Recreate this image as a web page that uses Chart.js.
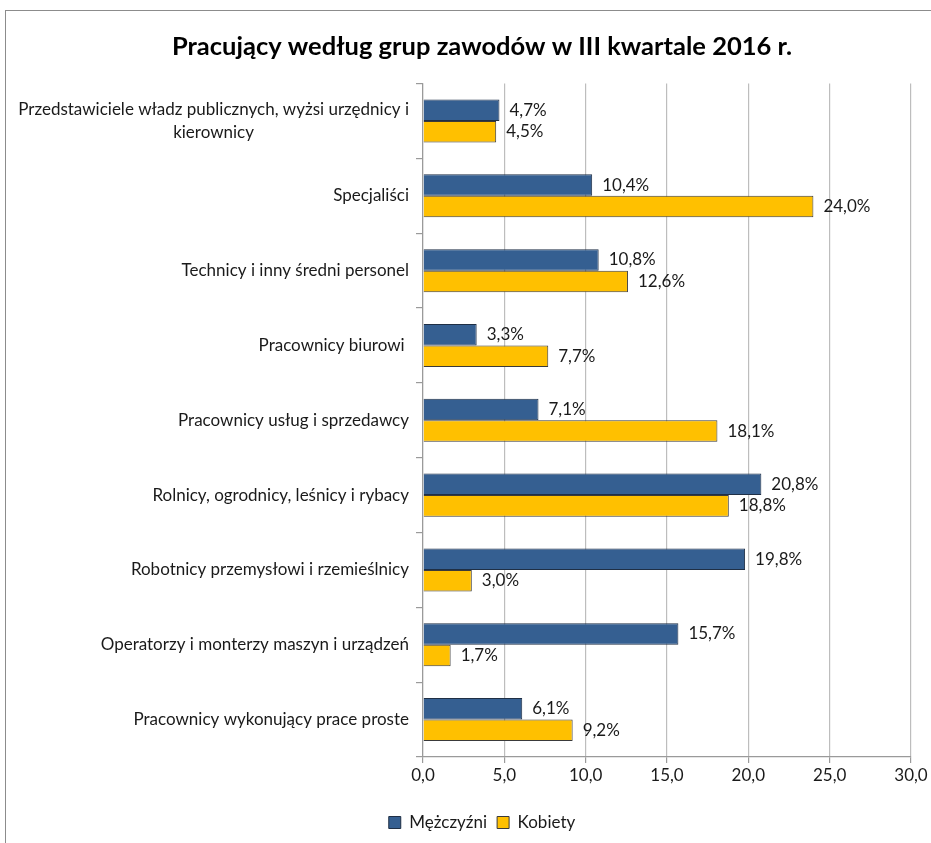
<!DOCTYPE html>
<html>
<head>
<meta charset="utf-8">
<script src="https://cdn.jsdelivr.net/npm/chart.js@4"></script>
<style>
  html, body { margin: 0; padding: 0; background: #fff; overflow: hidden; }
  #frame { position: absolute; left: 5px; top: 10px; width: 952px; height: 850px;
           border: 1.5px solid #8c8c8c; box-sizing: border-box; }
  #chart { position: absolute; left: 0; top: 0; }
</style>
</head>
<body>
<div id="frame"><canvas id="chart" width="952" height="833"></canvas></div>
<script>
const categories = [
    ['Przedstawiciele władz publicznych, wyżsi urzędnicy i', 'kierownicy'],
    ['Specjaliści'],
    ['Technicy i inny średni personel'],
    ['Pracownicy biurowi '],
    ['Pracownicy usług i sprzedawcy'],
    ['Rolnicy, ogrodnicy, leśnicy i rybacy'],
    ['Robotnicy przemysłowi i rzemieślnicy'],
    ['Operatorzy i monterzy maszyn i urządzeń'],
    ['Pracownicy wykonujący prace proste']
];
const men = [4.7, 10.4, 10.8, 3.3, 7.1, 20.8, 19.8, 15.7, 6.1];
const women = [4.5, 24.0, 12.6, 7.7, 18.1, 18.8, 3.0, 1.7, 9.2];
const xTicks = [0, 5, 10, 15, 20, 25, 30];

const FONT = 'Lato, "Open Sans", sans-serif';
const fmt = v => v.toFixed(1).replace('.', ',');

// category labels drawn by hand so that wrapped lines are centred inside their block
const categoryLabels = {
    id: 'categoryLabels',
    afterDraw(chart) {
        const ctx = chart.ctx;
        const y = chart.scales.y;
        const right = chart.chartArea.left - 14;
        ctx.save();
        ctx.font = '17px ' + FONT;
        ctx.fillStyle = '#1a1a1a';
        ctx.textBaseline = 'middle';
        ctx.textAlign = 'center';
        categories.forEach((lines, i) => {
            const cy = y.getPixelForValue(i);
            const w = Math.max(...lines.map(l => ctx.measureText(l).width));
            const cx = right - w / 2;
            const lh = 23;
            const top = cy - (lines.length - 1) * lh / 2;
            lines.forEach((l, j) => ctx.fillText(l, cx, top + j * lh));
        });
        ctx.restore();
    }
};

const valueLabels = {
    id: 'valueLabels',
    afterDatasetsDraw(chart) {
        const ctx = chart.ctx;
        ctx.save();
        ctx.font = '17px ' + FONT;
        ctx.fillStyle = '#1a1a1a';
        ctx.textAlign = 'left';
        ctx.textBaseline = 'middle';
        chart.data.datasets.forEach((ds, di) => {
            chart.getDatasetMeta(di).data.forEach((bar, i) => {
                ctx.fillText(fmt(ds.data[i]) + '%', bar.x + 10, bar.y);
            });
        });
        ctx.restore();
    }
};

new Chart(document.getElementById('chart'), {
    type: 'bar',
    data: {
        labels: categories,
        datasets: [{
            label: 'Mężczyźni',
            data: men,
            backgroundColor: '#355f91',
            borderColor: '#1f2f45',
            borderWidth: 1,
            barPercentage: 1,
            categoryPercentage: 0.575
        }, {
            label: 'Kobiety',
            data: women,
            backgroundColor: '#ffc000',
            borderColor: '#3a3a3a',
            borderWidth: 1,
            barPercentage: 1,
            categoryPercentage: 0.575
        }]
    },
    options: {
        indexAxis: 'y',
        responsive: false,
        animation: false,
        layout: { padding: { top: 10, right: 47, bottom: 3, left: 47 } },
        scales: {
            x: {
                min: 0, max: 30,
                afterBuildTicks: s => { s.ticks = xTicks.map(v => ({ value: v })); },
                afterFit: s => { s.height = 47; },
                grid: { color: '#bdbdbd', lineWidth: 1.2, tickLength: 6, tickColor: '#9a9a9a' },
                border: { color: '#9a9a9a', width: 1.2 },
                ticks: {
                    padding: 2,
                    color: '#1a1a1a',
                    font: { family: FONT, size: 17 },
                    callback: v => fmt(v)
                }
            },
            y: {
                afterFit: s => { s.width = 370; },
                grid: { offset: true, drawOnChartArea: false, tickLength: 7, color: '#9a9a9a', lineWidth: 1.2 },
                border: { color: '#9a9a9a', width: 1.2 },
                ticks: { display: false }
            }
        },
        plugins: {
            title: {
                display: true,
                text: 'Pracujący według grup zawodów w III kwartale 2016 r.',
                color: '#000',
                font: { family: FONT, size: 25.5, weight: 'bold' },
                padding: { top: 10, bottom: 22 }
            },
            legend: {
                position: 'bottom',
                labels: {
                    color: '#1a1a1a',
                    font: { family: FONT, size: 17 },
                    boxWidth: 12,
                    boxHeight: 12,
                    padding: 10
                }
            },
            tooltip: { enabled: false }
        }
    },
    plugins: [categoryLabels, valueLabels]
});
</script>
</body>
</html>
